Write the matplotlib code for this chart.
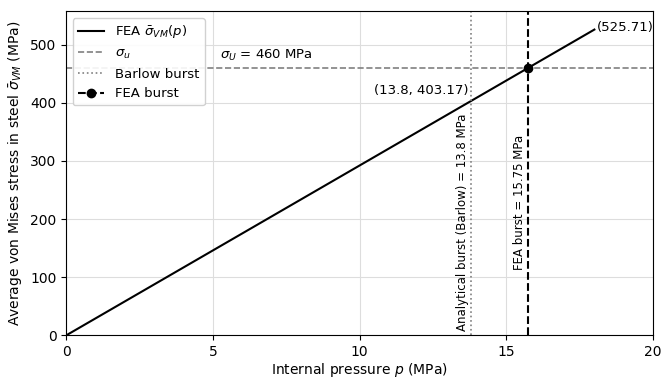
import matplotlib
matplotlib.use("Agg")
import matplotlib.pyplot as plt

# data
pressure = [0.0, 18.0]
sigma_vm = [0.0, 525.71]
sigma_u = 460.0
p_barlow = 13.8
p_fea = 15.75
sigma_at_barlow = 403.17

fig, ax = plt.subplots(figsize=(6.61, 3.79), dpi=100)

ax.plot(pressure, sigma_vm, color="black", lw=1.5, label=r"FEA $\bar{\sigma}_{VM}(p)$")
ax.axhline(sigma_u, color="gray", ls="--", lw=1.2, label=r"$\sigma_u$")
ax.axvline(p_barlow, color="gray", ls=":", lw=1.2, label="Barlow burst")
ax.axvline(p_fea, color="black", ls="--", lw=1.5)
ax.plot([p_fea], [sigma_u], "o", color="black", markersize=6)

# legend entry for FEA burst with marker
handles, labels = ax.get_legend_handles_labels()
handles.append(plt.Line2D([], [], color="black", ls="--", lw=1.5, marker="o", markersize=6))
labels.append("FEA burst")
ax.legend(handles, labels, loc="upper left", fontsize=9.5, framealpha=0.9)

ax.text(5.25, sigma_u + 8, r"$\sigma_U$ = 460 MPa", fontsize=9.5, va="bottom")
ax.text(pressure[-1] + 0.1, sigma_vm[-1] + 4, "(%.2f)" % sigma_vm[-1],
        fontsize=9.5, va="center", ha="left")
ax.text(p_barlow - 0.1, sigma_at_barlow + 17, "(%.1f, %.2f)" % (p_barlow, sigma_at_barlow),
        fontsize=9.5, va="center", ha="right")
ax.text(p_barlow - 0.3, 8, "Analytical burst (Barlow) = %.1f MPa" % p_barlow,
        rotation=90, fontsize=8.5, va="bottom", ha="center")
ax.text(p_fea - 0.3, 112, "FEA burst = %.2f MPa" % p_fea,
        rotation=90, fontsize=8.5, va="bottom", ha="center")

ax.set_xlim(0, 20)
ax.set_ylim(0, 557)
ax.set_xticks([0, 5, 10, 15, 20])
ax.set_yticks([0, 100, 200, 300, 400, 500])
ax.tick_params(labelsize=10)
ax.grid(True, color="#dddddd", lw=0.8)
ax.set_xlabel(r"Internal pressure $p$ (MPa)", fontsize=10, labelpad=1)
ax.set_ylabel(r"Average von Mises stress in steel $\bar{\sigma}_{VM}$ (MPa)", fontsize=10)

fig.subplots_adjust(left=0.1, right=0.988, top=0.97, bottom=0.115)
fig.savefig("out.png", dpi=100)
